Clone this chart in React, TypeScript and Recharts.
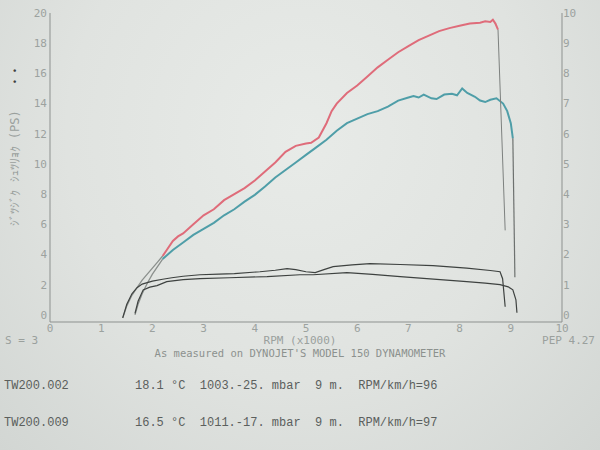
import React from "react";
import { LineChart, Line, XAxis, YAxis } from "recharts";

// [rpm x1000, value]
const run002PowerStart: [number, number][] = [
  [1.42, -0.2], [1.5, 0.6], [1.6, 1.3], [1.7, 1.8], [1.8, 2.3], [1.9, 2.7], [2.0, 3.1], [2.1, 3.5], [2.2, 3.9],
];
const run002Power: [number, number][] = [
  [2.2, 3.9], [2.3, 4.4], [2.4, 4.9], [2.5, 5.2], [2.6, 5.4], [2.8, 6.0], [3.0, 6.6], [3.2, 7.0], [3.4, 7.6],
  [3.6, 8.0], [3.8, 8.4], [4.0, 8.9], [4.2, 9.5], [4.4, 10.1], [4.6, 10.8], [4.8, 11.2], [5.0, 11.35],
  [5.1, 11.4], [5.25, 11.75], [5.4, 12.7], [5.5, 13.5], [5.6, 14.0], [5.8, 14.7], [6.0, 15.2], [6.2, 15.8],
  [6.4, 16.4], [6.6, 16.9], [6.8, 17.4], [7.0, 17.8], [7.2, 18.2], [7.4, 18.5], [7.6, 18.8], [7.8, 19.0],
  [8.0, 19.15], [8.2, 19.3], [8.4, 19.35], [8.5, 19.45], [8.6, 19.4], [8.65, 19.55], [8.7, 19.3], [8.75, 18.9],
];
const run002PowerDrop: [number, number][] = [[8.75, 18.9], [8.89, 5.6]];

const run009PowerStart: [number, number][] = [
  [1.66, 0.0], [1.72, 0.7], [1.8, 1.4], [1.9, 2.1], [2.0, 2.7], [2.1, 3.2], [2.2, 3.7],
];
const run009Power: [number, number][] = [
  [2.2, 3.7], [2.3, 4.0], [2.4, 4.3], [2.6, 4.8], [2.8, 5.3], [3.0, 5.7], [3.2, 6.1], [3.4, 6.6], [3.6, 7.0],
  [3.8, 7.5], [4.0, 7.95], [4.2, 8.5], [4.4, 9.1], [4.6, 9.6], [4.8, 10.1], [5.0, 10.6], [5.2, 11.1],
  [5.4, 11.6], [5.6, 12.2], [5.8, 12.7], [6.0, 13.0], [6.2, 13.3], [6.4, 13.5], [6.6, 13.8], [6.8, 14.2],
  [7.0, 14.4], [7.1, 14.5], [7.2, 14.4], [7.3, 14.6], [7.45, 14.35], [7.55, 14.3], [7.7, 14.6], [7.85, 14.65],
  [7.95, 14.55], [8.05, 15.0], [8.15, 14.7], [8.3, 14.45], [8.4, 14.2], [8.5, 14.1], [8.6, 14.25],
  [8.72, 14.35], [8.85, 14.0], [8.93, 13.5], [9.0, 12.7], [9.04, 11.7],
];
const run009PowerDrop: [number, number][] = [[9.04, 11.7], [9.08, 2.5]];

const run002Torque: [number, number][] = [
  [1.42, -0.1], [1.5, 0.35], [1.6, 0.7], [1.7, 0.9], [1.8, 1.02], [2.0, 1.12], [2.2, 1.18], [2.38, 1.23],
  [2.6, 1.28], [2.93, 1.33], [3.3, 1.35], [3.6, 1.37], [4.1, 1.43], [4.4, 1.48], [4.63, 1.53], [4.8, 1.5],
  [5.0, 1.43], [5.18, 1.4], [5.35, 1.5], [5.53, 1.6], [5.9, 1.66], [6.25, 1.7], [6.84, 1.67], [7.48, 1.63],
  [8.14, 1.55], [8.6, 1.47], [8.79, 1.43], [8.84, 1.2], [8.89, 0.27],
];
const run009Torque: [number, number][] = [
  [1.66, 0.05], [1.72, 0.45], [1.82, 0.83], [1.95, 0.92], [2.09, 0.97], [2.28, 1.1], [2.6, 1.17],
  [2.93, 1.2], [3.5, 1.23], [4.24, 1.27], [4.88, 1.33], [5.14, 1.33], [5.8, 1.4], [6.3, 1.34], [6.84, 1.27],
  [7.62, 1.17], [8.14, 1.1], [8.5, 1.05], [8.79, 1.0], [8.95, 0.93], [9.04, 0.83], [9.1, 0.5], [9.12, 0.07],
];

const rpmTicks = [0, 1, 2, 3, 4, 5, 6, 7, 8, 9, 10];
const powerTicks = [0, 2, 4, 6, 8, 10, 12, 14, 16, 18, 20];
const torqueTicks = [0, 1, 2, 3, 4, 5, 6, 7, 8, 9, 10];

const toPts = (a: [number, number][]) => a.map(([x, y]) => ({ x, y }));

const tickStyle = { fill: "#9ca29f", fontSize: 11, fontFamily: "DejaVu Sans Mono" };

export default function App() {
  return (
    <div
      style={{
        position: "absolute",
        left: 0,
        top: 0,
        width: 600,
        height: 450,
        overflow: "hidden",
        background: "radial-gradient(ellipse at 50% 30%, #e8ebe8 0%, #e0e3e0 55%, #d2d6d3 100%)",
      }}
    >
      <LineChart width={600} height={450} margin={{ top: 13, right: 0, bottom: 108, left: 0 }}>
        <XAxis
          xAxisId="x"
          dataKey="x"
          type="number"
          domain={[0, 10]}
          ticks={rpmTicks}
          allowDataOverflow
          height={20}
          stroke="#8d918f"
          tickLine={false}
          tickSize={0}
          tickMargin={2}
          tick={tickStyle}
          interval={0}
        />
        <YAxis
          yAxisId="hp"
          orientation="left"
          type="number"
          domain={[-0.47, 20]}
          ticks={powerTicks}
          allowDataOverflow
          width={50}
          stroke="#8d918f"
          tickLine={false}
          tickSize={0}
          tickMargin={3}
          tick={tickStyle}
          interval={0}
        />
        <YAxis
          yAxisId="tq"
          orientation="right"
          type="number"
          domain={[-0.235, 10]}
          ticks={torqueTicks}
          allowDataOverflow
          width={38}
          stroke="#8d918f"
          tickLine={false}
          tickSize={0}
          tickMargin={1}
          tick={tickStyle}
          interval={0}
        />
        <Line xAxisId="x" yAxisId="hp" data={toPts(run002PowerStart)} dataKey="y" stroke="#8b908d" strokeWidth={1.3} dot={false} isAnimationActive={false} />
        <Line xAxisId="x" yAxisId="hp" data={toPts(run009PowerStart)} dataKey="y" stroke="#8b908d" strokeWidth={1.3} dot={false} isAnimationActive={false} />
        <Line xAxisId="x" yAxisId="hp" data={toPts(run002Power)} dataKey="y" stroke="#df6c7a" strokeWidth={2} dot={false} isAnimationActive={false} />
        <Line xAxisId="x" yAxisId="hp" data={toPts(run009Power)} dataKey="y" stroke="#4f9ea8" strokeWidth={2} dot={false} isAnimationActive={false} />
        <Line xAxisId="x" yAxisId="hp" data={toPts(run002PowerDrop)} dataKey="y" stroke="#7d817f" strokeWidth={1} dot={false} isAnimationActive={false} />
        <Line xAxisId="x" yAxisId="hp" data={toPts(run009PowerDrop)} dataKey="y" stroke="#6d716f" strokeWidth={1.2} dot={false} isAnimationActive={false} />
        <Line xAxisId="x" yAxisId="tq" data={toPts(run002Torque)} dataKey="y" stroke="#3e4240" strokeWidth={1.2} dot={false} isAnimationActive={false} />
        <Line xAxisId="x" yAxisId="tq" data={toPts(run009Torque)} dataKey="y" stroke="#3e4240" strokeWidth={1.2} dot={false} isAnimationActive={false} />
      </LineChart>
      <svg width={600} height={450} style={{ position: "absolute", left: 0, top: 0, pointerEvents: "none" }}>
        <g fontFamily="DejaVu Sans Mono" fill="#9aa09d" fontSize={11}>
          <text x={15} y={168} transform="rotate(-90 15 168)" textAnchor="middle" dominantBaseline="middle" fontSize={12}>
            ｼﾞﾂｼﾞｸ ｼｭﾂﾘｮｸ (PS)
          </text>
          <text x={15} y={76} transform="rotate(-90 15 76)" textAnchor="middle" dominantBaseline="middle" fontSize={9} fill="#3e4240">
            • •
          </text>
          <text x={5} y={344}>S = 3</text>
          <text x={300} y={344} textAnchor="middle">RPM (x1000)</text>
          <text x={595} y={344} textAnchor="end">PEP 4.27</text>
          <text x={300} y={357} textAnchor="middle" fill="#8c918e" fontSize={10.5}>
            As measured on DYNOJET'S MODEL 150 DYNAMOMETER
          </text>
        </g>
        <g fontFamily="Liberation Mono" fill="#5b5f5d" fontSize={12}>
          <text x={4} y={389}>TW200.002</text>
          <text x={135} y={389} xmlSpace="preserve" style={{ whiteSpace: "pre" }}>
            {"18.1 °C  1003.-25. mbar  9 m.  RPM/km/h=96"}
          </text>
          <text x={4} y={426}>TW200.009</text>
          <text x={135} y={426} xmlSpace="preserve" style={{ whiteSpace: "pre" }}>
            {"16.5 °C  1011.-17. mbar  9 m.  RPM/km/h=97"}
          </text>
        </g>
      </svg>
    </div>
  );
}
